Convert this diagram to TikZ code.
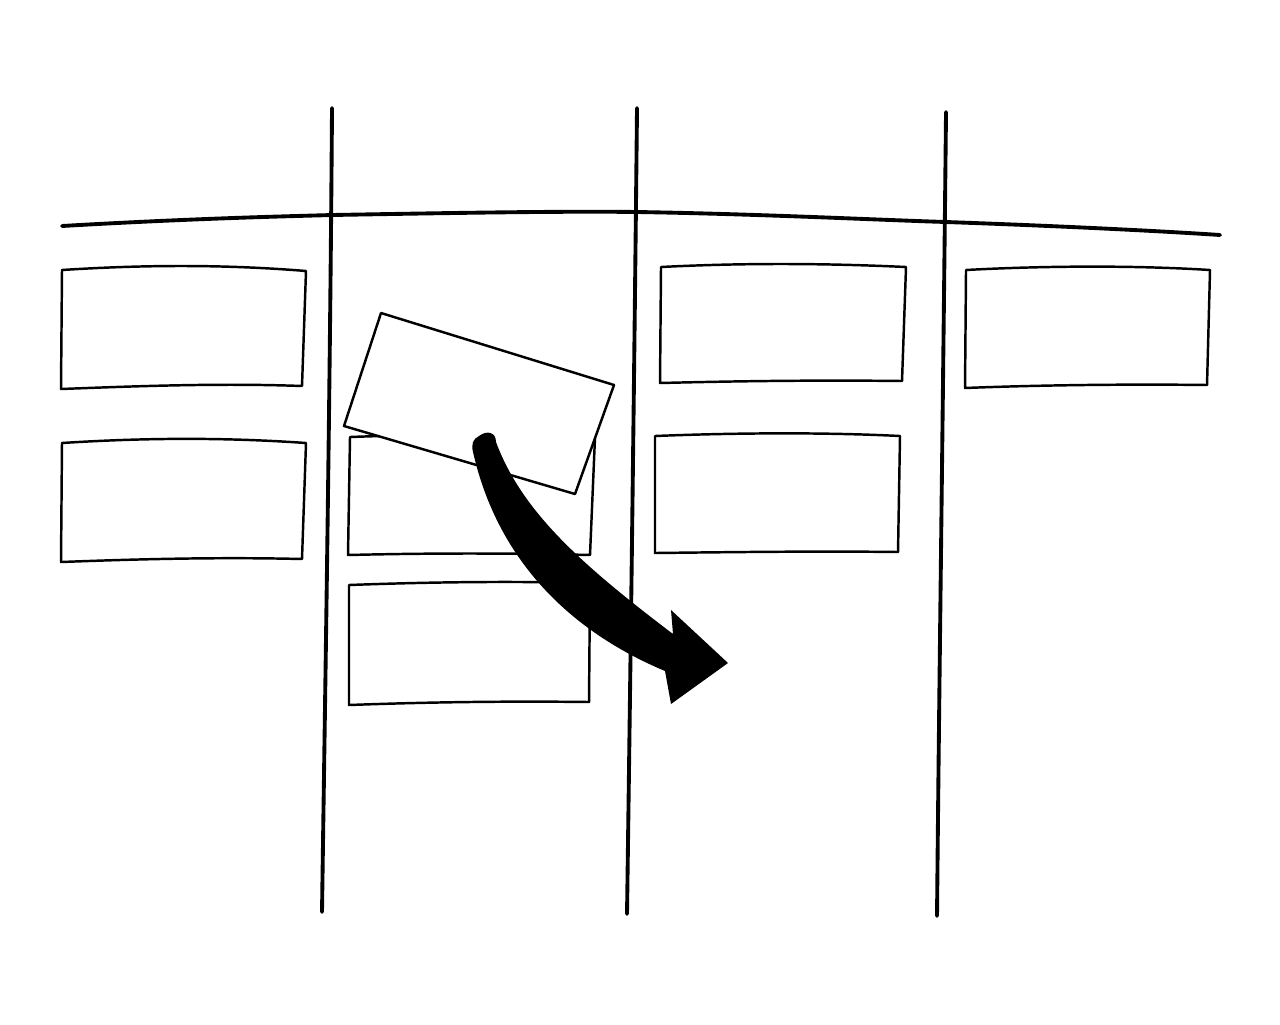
\documentclass[tikz,border=0pt]{standalone}
\usepackage{tikz}
\usetikzlibrary{calc}

\begin{document}
\begin{tikzpicture}[x=0.01cm,y=-0.01cm]
\tikzstyle boardline=[style={line width=1.1pt, line cap=round, line join=round}];
\tikzstyle cardbox=[style={line width=0.7pt, line join=round, fill=white}];
\useasboundingbox[fill=white] (0,0) rectangle (1280,1024);
% columns and header line
\draw[style=boardline] (62,226) .. controls (200,218) and (300,216) .. (332,215) .. controls (450,213) and (560,211) .. (637,212) .. controls (760,214) and (880,220) .. (946,222) .. controls (1060,226) and (1160,231) .. (1220,235);
\draw[style=boardline] (332,108) .. controls (330,400) and (325,700) .. (322,912);
\draw[style=boardline] (637,108) .. controls (634,400) and (630,700) .. (627,914);
\draw[style=boardline] (946,112) .. controls (943,400) and (939,700) .. (937,916);
% column 1
\draw[style=cardbox] (62,270) .. controls (140,265) and (220,264) .. (306,271) -- (302,386) .. controls (220,383) and (140,386) .. (61,389) -- cycle;
\draw[style=cardbox] (62,443) .. controls (140,438) and (220,437) .. (306,443) -- (302,559) .. controls (220,557) and (140,559) .. (61,562) -- cycle;
% column 2
\draw[style=cardbox] (350,437) .. controls (430,434) and (520,434) .. (595,437) -- (590,555) .. controls (510,553) and (430,553) .. (348,555) -- cycle;
\draw[style=cardbox] (349,585) .. controls (430,582) and (510,581) .. (590,583) -- (589,702) .. controls (510,701) and (430,702) .. (349,705) -- cycle;
\draw[style=cardbox] (381,313) -- (614,385) -- (575,494) -- (344,426) -- cycle;
% column 3
\draw[style=cardbox] (661,267) .. controls (740,263) and (820,263) .. (906,267) -- (902,381) .. controls (820,380) and (740,381) .. (660,383) -- cycle;
\draw[style=cardbox] (655,436) .. controls (730,433) and (820,432) .. (900,436) -- (898,552) .. controls (820,551) and (740,552) .. (655,553) -- cycle;
% column 4
\draw[style=cardbox] (966,270) .. controls (1040,266) and (1130,265) .. (1210,270) -- (1207,385) .. controls (1130,384) and (1040,385) .. (965,388) -- cycle;
% moving card arrow
\fill[black, line join=round] (479,436) .. controls (487,430) and (496,432) .. (496,442) .. controls (522,512) and (582,565) .. (673,634) -- (671,610) -- (728,663) -- (671,704) -- (665,671) .. controls (572,632) and (498,562) .. (473,452) .. controls (471,444) and (473,439) .. (479,436) -- cycle;
\end{tikzpicture}
\end{document}
